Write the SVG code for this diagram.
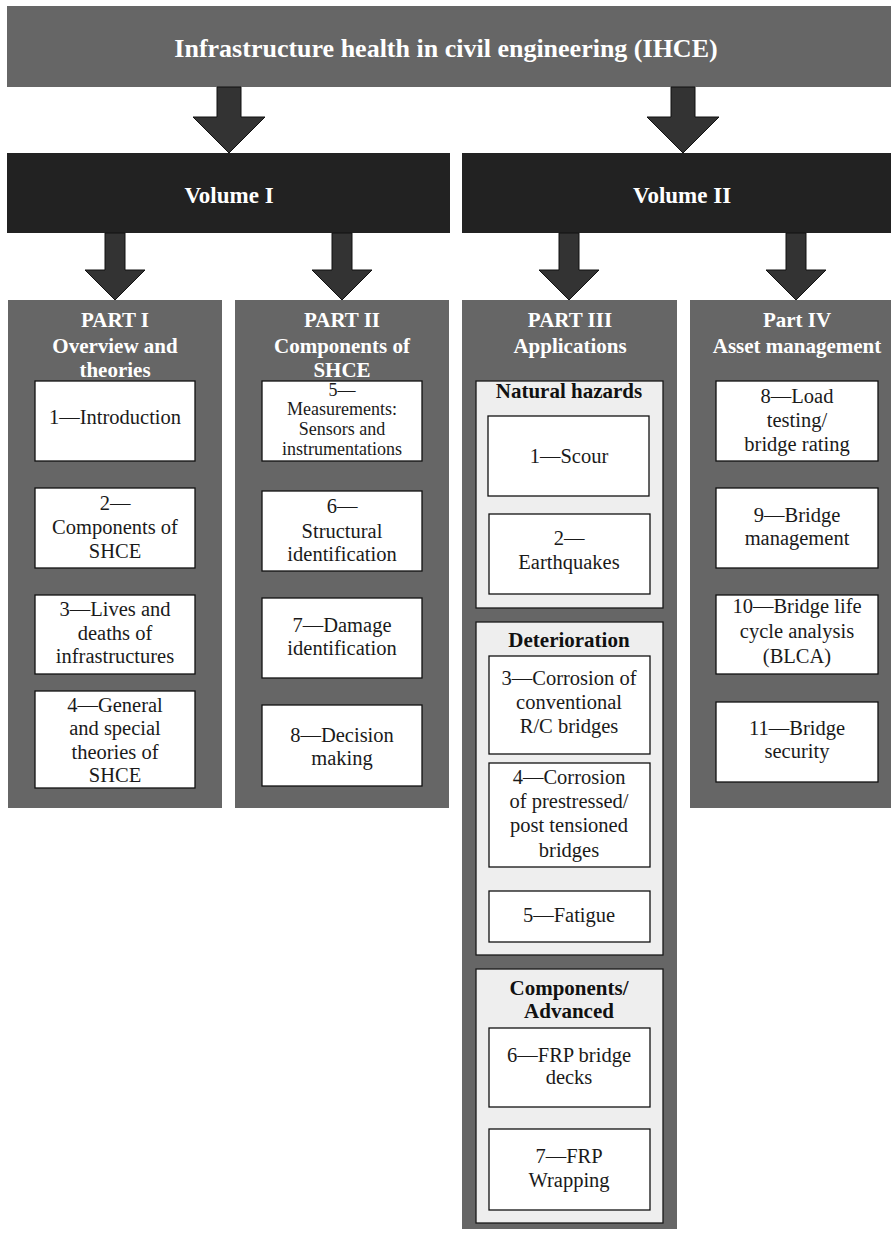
<svg xmlns="http://www.w3.org/2000/svg" width="895" height="1233" viewBox="0 0 895 1233">
  <defs>
    <style>
      .bar { fill: #666666; }
      .vol { fill: #222222; }
      .panel { fill: #666666; }
      .group { fill: #eeeeee; stroke: #1a1a1a; stroke-width: 1.3; }
      .box { fill: #ffffff; stroke: #111111; stroke-width: 1.3; }
      .arrow { fill: #333333; stroke: #111111; stroke-width: 1; stroke-linejoin: miter; }
      .title, .voltxt, .ptitle, .glabel, .t, .ts { font-family: "Liberation Serif", "Times New Roman", serif; text-anchor: middle; }
      .title { font-size: 26px; font-weight: bold; fill: #ffffff; }
      .voltxt { font-size: 23px; font-weight: bold; fill: #ffffff; }
      .ptitle { font-size: 21px; font-weight: bold; fill: #ffffff; }
      .glabel { font-size: 21px; font-weight: bold; fill: #111111; }
      .t { font-size: 20.5px; fill: #1a1a1a; }
      .ts { font-size: 18px; fill: #1a1a1a; }
    </style>
  </defs>

  <!-- top heading -->
  <g id="ihce">
    <rect class="bar" x="7" y="6" width="884" height="81"/>
    <text class="title" x="446" y="57">Infrastructure health in civil engineering (IHCE)</text>
  </g>

  <!-- volumes -->
  <g id="volume-1">
    <rect class="vol" x="7" y="153" width="443" height="80"/>
    <text class="voltxt" x="229" y="203">Volume I</text>
  </g>
  <g id="volume-2">
    <rect class="vol" x="462" y="153" width="429" height="80"/>
    <text class="voltxt" x="682" y="203">Volume II</text>
  </g>

  <!-- block arrows -->
  <g id="connectors">
    <polygon class="arrow" points="217,87 241,87 241,117 265,117 229,153 193,117 217,117"/>
    <polygon class="arrow" points="671,87 695,87 695,117 719,117 683,153 647,117 671,117"/>
    <polygon class="arrow" points="105,233 125,233 125,270 145,270 115,300 85,270 105,270"/>
    <polygon class="arrow" points="332,233 352,233 352,270 372,270 342,300 312,270 332,270"/>
    <polygon class="arrow" points="559,233 579,233 579,270 599,270 569,300 539,270 559,270"/>
    <polygon class="arrow" points="786,233 806,233 806,270 826,270 796,300 766,270 786,270"/>
  </g>

  <!-- PART I -->
  <g id="part-1">
    <rect class="panel" x="8" y="300" width="214" height="508"/>
    <text class="ptitle" x="115" y="327">PART I</text>
    <text class="ptitle" x="115" y="353">Overview and</text>
    <text class="ptitle" x="115" y="377">theories</text>
  </g>
  <g id="ch1-introduction">
    <rect class="box" x="35" y="381" width="160" height="80"/>
    <text class="t" x="115" y="424">1—Introduction</text>
  </g>
  <g id="ch2-components">
    <rect class="box" x="35" y="488" width="160" height="80"/>
    <text class="t" x="115" y="510">2—</text>
    <text class="t" x="115" y="534">Components of</text>
    <text class="t" x="115" y="558">SHCE</text>
  </g>
  <g id="ch3-lives">
    <rect class="box" x="35" y="595" width="160" height="79"/>
    <text class="t" x="115" y="616">3—Lives and</text>
    <text class="t" x="115" y="640">deaths of</text>
    <text class="t" x="115" y="663">infrastructures</text>
  </g>
  <g id="ch4-theories">
    <rect class="box" x="35" y="691" width="160" height="97"/>
    <text class="t" x="115" y="712">4—General</text>
    <text class="t" x="115" y="735">and special</text>
    <text class="t" x="115" y="759">theories of</text>
    <text class="t" x="115" y="782">SHCE</text>
  </g>

  <!-- PART II -->
  <g id="part-2">
    <rect class="panel" x="235" y="300" width="214" height="508"/>
    <text class="ptitle" x="342" y="327">PART II</text>
    <text class="ptitle" x="342" y="353">Components of</text>
    <text class="ptitle" x="342" y="377">SHCE</text>
  </g>
  <g id="ch5-measurements">
    <rect class="box" x="262" y="381" width="160" height="80"/>
    <text class="ts" x="342" y="396">5—</text>
    <text class="ts" x="342" y="415">Measurements:</text>
    <text class="ts" x="342" y="435">Sensors and</text>
    <text class="ts" x="342" y="455">instrumentations</text>
  </g>
  <g id="ch6-structural-id">
    <rect class="box" x="262" y="491" width="160" height="80"/>
    <text class="t" x="342" y="513">6—</text>
    <text class="t" x="342" y="538">Structural</text>
    <text class="t" x="342" y="561">identification</text>
  </g>
  <g id="ch7-damage-id">
    <rect class="box" x="262" y="598" width="160" height="80"/>
    <text class="t" x="342" y="632">7—Damage</text>
    <text class="t" x="342" y="655">identification</text>
  </g>
  <g id="ch8-decision">
    <rect class="box" x="262" y="705" width="160" height="81"/>
    <text class="t" x="342" y="742">8—Decision</text>
    <text class="t" x="342" y="765">making</text>
  </g>

  <!-- PART III -->
  <g id="part-3">
    <rect class="panel" x="462" y="300" width="215" height="929"/>
    <text class="ptitle" x="570" y="327">PART III</text>
    <text class="ptitle" x="570" y="353">Applications</text>
  </g>
  <g id="natural-hazards">
    <rect class="group" x="476" y="381" width="187" height="227"/>
    <text class="glabel" x="569" y="398">Natural hazards</text>
  </g>
  <g id="app1-scour">
    <rect class="box" x="488" y="416" width="161" height="80"/>
    <text class="t" x="569" y="463">1—Scour</text>
  </g>
  <g id="app2-earthquakes">
    <rect class="box" x="489" y="514" width="161" height="80"/>
    <text class="t" x="569" y="545">2—</text>
    <text class="t" x="569" y="569">Earthquakes</text>
  </g>
  <g id="deterioration">
    <rect class="group" x="476" y="622" width="187" height="333"/>
    <text class="glabel" x="569" y="647">Deterioration</text>
  </g>
  <g id="app3-corrosion-rc">
    <rect class="box" x="489" y="656" width="161" height="98"/>
    <text class="t" x="569" y="685">3—Corrosion of</text>
    <text class="t" x="569" y="709">conventional</text>
    <text class="t" x="569" y="733">R/C bridges</text>
  </g>
  <g id="app4-corrosion-ps">
    <rect class="box" x="489" y="763" width="161" height="104"/>
    <text class="t" x="569" y="784">4—Corrosion</text>
    <text class="t" x="569" y="808">of prestressed/</text>
    <text class="t" x="569" y="832">post tensioned</text>
    <text class="t" x="569" y="857">bridges</text>
  </g>
  <g id="app5-fatigue">
    <rect class="box" x="489" y="891" width="161" height="51"/>
    <text class="t" x="569" y="922">5—Fatigue</text>
  </g>
  <g id="components-advanced">
    <rect class="group" x="476" y="969" width="187" height="254"/>
    <text class="glabel" x="569" y="995">Components/</text>
    <text class="glabel" x="569" y="1018">Advanced</text>
  </g>
  <g id="app6-frp-decks">
    <rect class="box" x="489" y="1028" width="161" height="79"/>
    <text class="t" x="569" y="1062">6—FRP bridge</text>
    <text class="t" x="569" y="1084">decks</text>
  </g>
  <g id="app7-frp-wrapping">
    <rect class="box" x="489" y="1129" width="161" height="81"/>
    <text class="t" x="569" y="1163">7—FRP</text>
    <text class="t" x="569" y="1187">Wrapping</text>
  </g>

  <!-- PART IV -->
  <g id="part-4">
    <rect class="panel" x="690" y="300" width="201" height="508"/>
    <text class="ptitle" x="797" y="327">Part IV</text>
    <text class="ptitle" x="797" y="353">Asset management</text>
  </g>
  <g id="am8-load-testing">
    <rect class="box" x="716" y="381" width="162" height="80"/>
    <text class="t" x="797" y="403">8—Load</text>
    <text class="t" x="797" y="427">testing/</text>
    <text class="t" x="797" y="451">bridge rating</text>
  </g>
  <g id="am9-bridge-management">
    <rect class="box" x="716" y="488" width="162" height="80"/>
    <text class="t" x="797" y="522">9—Bridge</text>
    <text class="t" x="797" y="545">management</text>
  </g>
  <g id="am10-blca">
    <rect class="box" x="716" y="595" width="162" height="79"/>
    <text class="t" x="797" y="613">10—Bridge life</text>
    <text class="t" x="797" y="638">cycle analysis</text>
    <text class="t" x="797" y="663">(BLCA)</text>
  </g>
  <g id="am11-bridge-security">
    <rect class="box" x="716" y="702" width="162" height="80"/>
    <text class="t" x="797" y="735">11—Bridge</text>
    <text class="t" x="797" y="758">security</text>
  </g>
</svg>
